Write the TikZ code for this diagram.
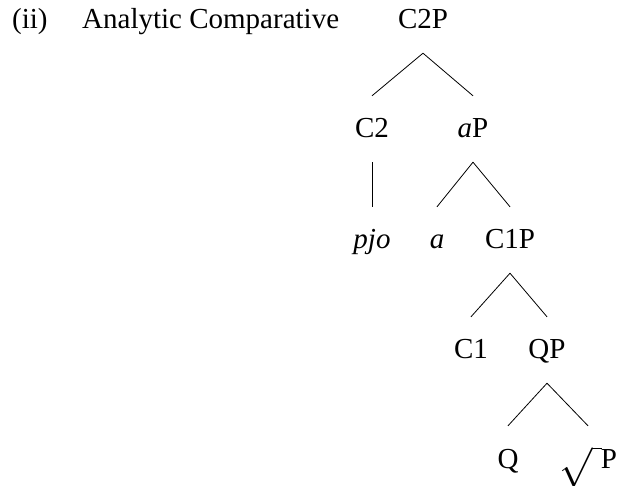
\documentclass[tikz,border=0pt]{standalone}
\usepackage{fontspec}
\setmainfont{Liberation Serif}
\tikzset{lbl/.style={font=\fontsize{29}{34}\selectfont, inner xsep=0pt, inner ysep=17pt,
    text height=25pt, text depth=7pt, anchor=base},
  branch/.style={draw, line width=0.8pt}}

\begin{document}
\begin{tikzpicture}[x=1pt, y=-1pt]
  \useasboundingbox (0,0) rectangle (619,486);
  % heading
  \node[lbl, anchor=base west] (num) at (12,29) {(ii)};
  \node[lbl, anchor=base west] (title) at (82,29) {Analytic Comparative};
  % tree nodes
  \node[lbl] (c2p) at (423,29) {C2P};
  \node[lbl] (c2) at (372,138) {C2};
  \node[lbl] (ap) at (473,138) {\textit{a}P};
  \node[lbl] (pjo) at (372,249) {\textit{pjo}};
  \node[lbl] (a) at (437,249) {\textit{a}};
  \node[lbl] (c1p) at (510,249) {C1P};
  \node[lbl] (c1) at (471,359) {C1};
  \node[lbl] (qp) at (547,359) {QP};
  \node[lbl] (q) at (508,468) {Q};
  \node[lbl] (rootp) at (588,468)
    {\raisebox{-1pt}{\scalebox{1.6}{$\sqrt{\hbox to 6pt{}}$}}\kern-1pt P};
  % branches
  \draw[branch] (c2p.south) -- (c2.north);
  \draw[branch] (c2p.south) -- (ap.north);
  \draw[branch] (c2.south) -- (pjo.north);
  \draw[branch] (ap.south) -- (a.north);
  \draw[branch] (ap.south) -- (c1p.north);
  \draw[branch] (c1p.south) -- (c1.north);
  \draw[branch] (c1p.south) -- (qp.north);
  \draw[branch] (qp.south) -- (q.north);
  \draw[branch] (qp.south) -- (rootp.north);
\end{tikzpicture}
\end{document}
